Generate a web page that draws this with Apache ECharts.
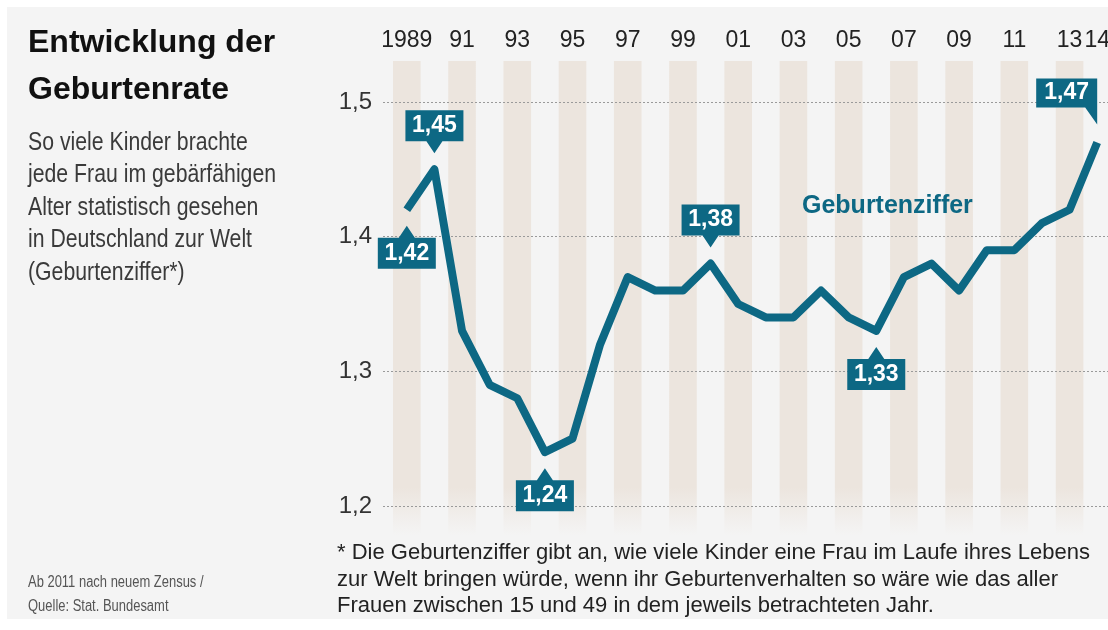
<!DOCTYPE html>
<html>
<head>
<meta charset="utf-8">
<script src="https://cdn.jsdelivr.net/npm/echarts@6.0.0/dist/echarts.min.js"></script>
<style>
  html, body { margin: 0; padding: 0; background: #ffffff; }
  #chart { width: 1108px; height: 630px; }
</style>
</head>
<body>
<div id="chart"></div>
<script>
// ---- data ----
const years = ['1989','1990','1991','1992','1993','1994','1995','1996','1997','1998','1999','2000','2001',
  '2002','2003','2004','2005','2006','2007','2008','2009','2010','2011','2012','2013','2014'];
const rate = [1.42,1.45,1.33,1.29,1.28,1.24,1.25,1.32,1.37,1.36,1.36,1.38,1.35,
  1.34,1.34,1.36,1.34,1.33,1.37,1.38,1.36,1.39,1.39,1.41,1.42,1.47];
const yTicks = [1.2, 1.3, 1.4, 1.5];
const calloutYears = ['1989','1990','1994','2000','2006','2014'];
const calloutSides = ['below','above','below','above','below','corner'];
const seriesName = 'Geburtenziffer';
const titleLines = ['Entwicklung der', 'Geburtenrate'];
const subtitleLines = ['So viele Kinder brachte', 'jede Frau im gebärfähigen', 'Alter statistisch gesehen',
  'in Deutschland zur Welt', '(Geburtenziffer*)'];
const sourceLines = ['Ab 2011 nach neuem Zensus /', 'Quelle: Stat. Bundesamt'];
const noteLines = ['* Die Geburtenziffer gibt an, wie viele Kinder eine Frau im Laufe ihres Lebens',
  'zur Welt bringen würde, wenn ihr Geburtenverhalten so wäre wie das aller',
  'Frauen zwischen 15 und 49 in dem jeweils betrachteten Jahr.'];

// ---- styles ----
const TEAL = '#0d6884';
const STRIPE = '#ece5de';
const FONT = 'Liberation Sans, Arial, sans-serif';
const comma = v => (Math.round(v * 100) / 100).toString().replace('.', ',');

const shapes = {
  above:  { path: 'path://M0,0 L58,0 L58,31 L37,31 L29,43 L21,31 L0,31 Z', size: [58, 43], offset: [0, -37.5], label: [0, -6] },
  below:  { path: 'path://M29,0 L37,12 L58,12 L58,43 L0,43 L0,12 L21,12 Z', size: [58, 43], offset: [0, 37.5], label: [0, 6] },
  corner: { path: 'path://M0,0 L61,0 L61,46 L49,29 L0,29 Z', size: [61, 46], offset: [-30.5, -41], label: [0, -8.5] }
};

const markData = calloutYears.map((y, i) => {
  const idx = years.indexOf(y);
  const s = shapes[calloutSides[i]];
  return {
    coord: [idx, rate[idx]],
    value: rate[idx],
    symbol: s.path,
    symbolSize: s.size,
    symbolOffset: s.offset,
    label: { offset: s.label }
  };
});

const graphics = [
  { type: 'rect', z: -10, shape: { x: 7, y: 7, width: 1110, height: 612 }, style: { fill: '#f4f4f4' } }
];
const titleY = [43.5, 90];
titleLines.forEach((t, i) => graphics.push({
  type: 'text', x: 28, y: titleY[i], z: 50,
  style: { text: t, font: 'bold 32px ' + FONT, fill: '#111111', textVerticalAlign: 'middle' }
}));
subtitleLines.forEach((t, i) => graphics.push({
  type: 'text', x: 28, y: 143 + i * 32.5, scaleX: 0.85, z: 50,
  style: { text: t, font: '25px ' + FONT, fill: '#3a3a3a', textVerticalAlign: 'middle' }
}));
sourceLines.forEach((t, i) => graphics.push({
  type: 'text', x: 28, y: 583 + i * 23.5, scaleX: 0.81, z: 50,
  style: { text: t, font: '16px ' + FONT, fill: '#555555', textVerticalAlign: 'middle' }
}));
noteLines.forEach((t, i) => graphics.push({
  type: 'text', x: 337, y: 553 + i * 26.5, z: 50,
  style: { text: t, font: '22px ' + FONT, fill: '#222222', textVerticalAlign: 'middle' }
}));
graphics.push({
  type: 'text', x: 802, y: 206, z: 50,
  style: { text: seriesName, font: 'bold 25px ' + FONT, fill: TEAL, textVerticalAlign: 'middle' }
});

const chart = echarts.init(document.getElementById('chart'), null, { renderer: 'canvas' });
chart.setOption({
  backgroundColor: '#ffffff',
  animation: false,
  graphic: { elements: graphics },
  grid: [
    { left: 393, top: 61, width: 718, height: 474, outerBoundsMode: 'none' },
    { left: 383, top: 102, width: 730, height: 404, outerBoundsMode: 'none' },
    { left: 393, top: 102, width: 718, height: 404, outerBoundsMode: 'none' }
  ],
  xAxis: [
    {
      gridIndex: 0, type: 'category', data: years, position: 'top', boundaryGap: true, z: 0,
      axisLine: { show: false }, axisTick: { show: false }, splitLine: { show: false },
      axisLabel: {
        interval: (i) => i % 2 === 0 || i === years.length - 1,
        formatter: (v, i) => i === 0 ? v : v.slice(2),
        color: '#222222', fontSize: 23, fontFamily: FONT, margin: 9
      },
      splitArea: {
        show: true, interval: 0,
        areaStyle: {
          color: [
            { type: 'linear', x: 0, y: 0, x2: 0, y2: 1,
              colorStops: [{ offset: 0, color: STRIPE }, { offset: 0.9, color: STRIPE }, { offset: 1, color: 'rgba(236,229,222,0)' }] },
            'rgba(0,0,0,0)'
          ]
        }
      }
    },
    { gridIndex: 1, type: 'value', min: 0, max: 1, show: false },
    { gridIndex: 2, type: 'category', data: years, boundaryGap: true, show: false }
  ],
  yAxis: [
    { gridIndex: 0, type: 'value', min: 0, max: 1, show: false },
    {
      gridIndex: 1, type: 'value', min: yTicks[0], max: yTicks[yTicks.length - 1], interval: 0.1, z: 1,
      axisLine: { show: false }, axisTick: { show: false },
      axisLabel: { formatter: v => v.toFixed(1).replace('.', ','), color: '#333333', fontSize: 24, fontFamily: FONT, margin: 11 },
      splitLine: { show: true, lineStyle: { type: [2, 2], color: '#9a9a9a', width: 1 } }
    },
    { gridIndex: 2, type: 'value', min: yTicks[0], max: yTicks[yTicks.length - 1], show: false }
  ],
  series: [{
    name: seriesName,
    type: 'line',
    xAxisIndex: 2, yAxisIndex: 2,
    data: rate,
    symbol: 'none',
    clip: false,
    z: 3,
    lineStyle: { color: TEAL, width: 8, join: 'round', cap: 'butt' },
    markPoint: {
      silent: true,
      itemStyle: { color: TEAL },
      label: {
        show: true, position: 'inside', color: '#ffffff', fontSize: 23, fontWeight: 'bold', fontFamily: FONT,
        formatter: p => comma(p.value)
      },
      data: markData
    }
  }]
});
</script>
</body>
</html>
